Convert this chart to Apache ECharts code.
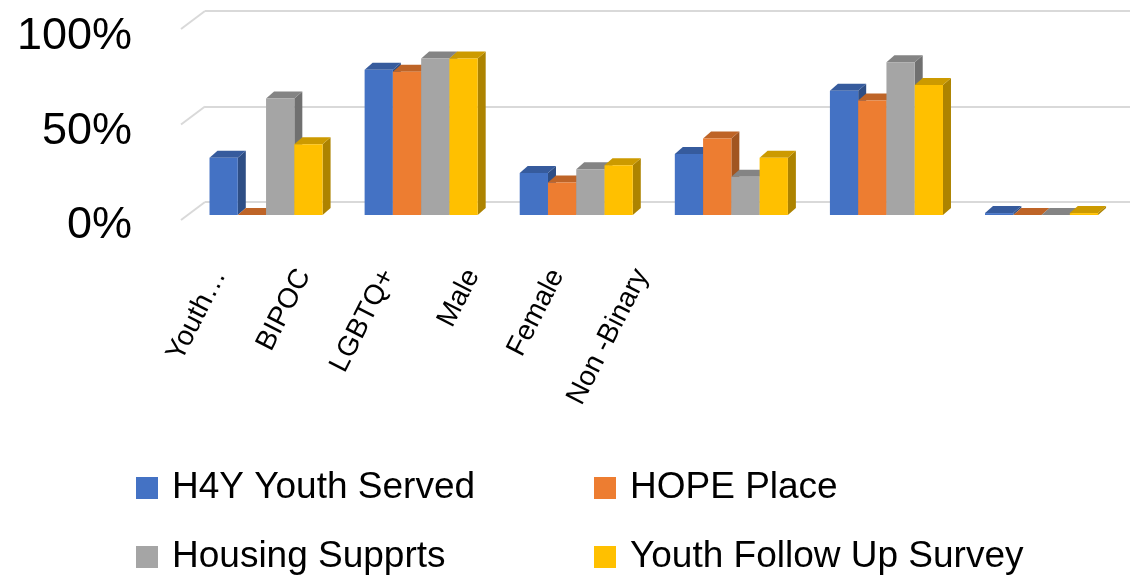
<!DOCTYPE html>
<html>
<head>
<meta charset="utf-8">
<script src="https://cdn.jsdelivr.net/npm/echarts@6/dist/echarts.min.js"></script>
<style>
  html, body { margin: 0; padding: 0; background: #fff; }
  #chart { width: 1130px; height: 575px; }
</style>
</head>
<body>
<div id="chart"></div>
<script>
// data (fractions of 1)
const categories = ['Youth…', 'BIPOC', 'LGBTQ+', 'Male', 'Female', 'Non -Binary'];
const seriesNames = ['H4Y Youth Served', 'HOPE Place', 'Housing Supprts', 'Youth Follow Up Survey'];
const h4yServed = [0.30, 0.76, 0.22, 0.32, 0.65, 0.01];
const hopePlace = [0.00, 0.75, 0.17, 0.40, 0.60, 0.00];
const housingSupports = [0.61, 0.82, 0.24, 0.20, 0.80, 0.00];
const followUpSurvey = [0.37, 0.82, 0.26, 0.30, 0.68, 0.01];
const yTicks = [0, 0.5, 1];

const colors = ['#4472C4', '#ED7D31', '#A5A5A5', '#FFC000'];
const FONT = 'Liberation Sans';
const GROUP = 0.729;  // share of the category band used by the 4 bars
const DX = 8, DY = 7; // bar depth

function shade(hex, k) {
  const n = parseInt(hex.slice(1), 16);
  const r = Math.round(((n >> 16) & 255) * k);
  const g = Math.round(((n >> 8) & 255) * k);
  const b = Math.round((n & 255) * k);
  return 'rgb(' + r + ',' + g + ',' + b + ')';
}

function barRenderer(idx, color) {
  const side = shade(color, 0.68);
  const top = shade(color, 0.8);
  return function (params, api) {
    const cat = api.value(0);
    const band = api.size([1, 0])[0];
    const w = band * GROUP / 4;
    const base = api.coord([cat, 0]);
    const peak = api.coord([cat, api.value(1)]);
    const x = base[0] - band * GROUP / 2 + idx * w;
    const y0 = base[1], y1 = peak[1];
    return {
      type: 'group',
      children: [
        { type: 'polygon', shape: { points: [[x + w, y1], [x + w + DX, y1 - DY], [x + w + DX, y0 - DY], [x + w, y0]] }, style: { fill: side } },
        { type: 'polygon', shape: { points: [[x, y1], [x + DX, y1 - DY], [x + w + DX, y1 - DY], [x + w, y1]] }, style: { fill: top } },
        { type: 'rect', shape: { x: x, y: y1, width: w, height: y0 - y1 }, style: { fill: color } }
      ]
    };
  };
}

const seriesValues = [h4yServed, hopePlace, housingSupports, followUpSurvey];

const barSeries = seriesValues.map(function (vals, i) {
  return {
    type: 'custom',
    name: seriesNames[i],
    xAxisIndex: 2,
    yAxisIndex: 2,
    itemStyle: { color: colors[i] },
    renderItem: barRenderer(i, colors[i]),
    data: vals.map(function (v, c) { return [c, v]; })
  };
});

// one legend per entry, laid out as 2 x 2
const legendSpots = [[131, 463], [589, 463], [131, 532], [589, 532]];
const legends = seriesNames.map(function (name, i) {
  return {
    data: [name],
    left: legendSpots[i][0], top: legendSpots[i][1],
    selectedMode: false,
    icon: 'rect', itemWidth: 22, itemHeight: 22,
    textStyle: { fontSize: 37, lineHeight: 40, color: '#000', fontFamily: FONT, padding: [0, 0, 0, 9] }
  };
});

const chart = echarts.init(document.getElementById('chart'));
chart.setOption({
  animation: false,
  grid: [
    { left: 205, right: 0, top: 11, height: 191 },          // back wall
    { left: 180, width: 100, top: 37, height: 189 },        // front edge (labels)
    { left: 188.5, width: 930.6, top: 24, height: 191 },    // bars
    { left: 177, width: 507, top: 0, height: 263 }          // category labels
  ],
  xAxis: [
    { gridIndex: 0, type: 'value', min: 0, max: 1, show: false },
    { gridIndex: 1, type: 'value', min: 0, max: 1, show: false },
    { gridIndex: 2, type: 'category', data: categories, show: false },
    {
      gridIndex: 3, type: 'category', data: categories,
      axisLine: { show: false }, axisTick: { show: false },
      axisLabel: { rotate: 63, interval: 0, margin: 8, fontSize: 28, color: '#000', fontFamily: FONT }
    }
  ],
  yAxis: [
    {
      gridIndex: 0, type: 'value', min: 0, max: 1, interval: 0.5,
      axisLabel: { show: false }, axisLine: { show: false }, axisTick: { show: false },
      splitLine: { lineStyle: { color: '#d9d9d9', width: 2 } }
    },
    {
      gridIndex: 1, type: 'value', min: 0, max: 1, interval: 0.5,
      axisLine: { show: false }, axisTick: { show: false }, splitLine: { show: false },
      axisLabel: {
        margin: 48, fontSize: 45, color: '#000', fontFamily: FONT,
        formatter: function (v) { return Math.round(v * 100) + '%'; }
      }
    },
    { gridIndex: 2, type: 'value', min: 0, max: 1, show: false },
    { gridIndex: 3, type: 'value', min: 0, max: 1, show: false }
  ],
  legend: legends,
  series: [
    {
      type: 'custom',
      name: 'wall edges',
      xAxisIndex: 0,
      yAxisIndex: 0,
      silent: true,
      renderItem: function (params, api) {
        const p = api.coord([0, api.value(1)]);
        return {
          type: 'line',
          shape: { x1: p[0], y1: p[1], x2: p[0] - 24, y2: p[1] + 18 },
          style: { stroke: '#d9d9d9', lineWidth: 2 }
        };
      },
      data: yTicks.map(function (v) { return [0, v]; })
    }
  ].concat(barSeries)
});
</script>
</body>
</html>
